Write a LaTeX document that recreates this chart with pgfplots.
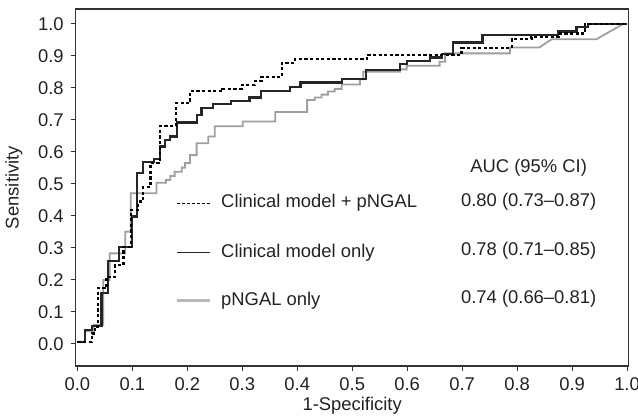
\documentclass[border=0pt]{standalone}
\usepackage{pgfplots}
\pgfplotsset{compat=1.18}
\usepackage{fontspec}
\setmainfont{Liberation Sans}
\definecolor{frame}{HTML}{333333}
\definecolor{txt}{HTML}{222222}
\definecolor{roc}{HTML}{9F9F9F}
\definecolor{rocleg}{HTML}{B8B8B8}
\begin{document}
\begin{tikzpicture}[font=\fontsize{9.2}{11}\selectfont, text=txt]
\useasboundingbox (0,0) rectangle (319pt,208pt);
\begin{axis}[
    at={(37.85pt,25pt)}, anchor=south west,
    scale only axis, width=276.5pt, height=178.4pt,
    xmin=-0.003, xmax=1.003, ymin=-0.0688, ymax=1.046,
    xtick={0,0.1,0.2,0.3,0.4,0.5,0.6,0.7,0.8,0.9,1.0},
    ytick={0,0.1,0.2,0.3,0.4,0.5,0.6,0.7,0.8,0.9,1.0},
    xtick pos=bottom, ytick pos=left, tick align=outside,
    major tick length=2.5pt,
    tick style={frame, line width=0.5pt},
    axis line style={frame, line width=0.7pt},
    /pgf/number format/assume math mode=true,
    /pgf/number format/.cd, fixed, fixed zerofill, precision=1, /pgfplots/.cd,
    xlabel={1-Specificity}, ylabel={Sensitivity},
    xlabel style={yshift=4pt}, ylabel style={yshift=1pt},
]
% pNGAL only
\addplot[roc, line width=0.9pt] coordinates {
  (0,0.007)(0.014,0.007)(0.014,0.04)(0.03,0.04)(0.03,0.06)(0.047,0.06)(0.047,0.128)
  (0.047,0.2)(0.059,0.2)(0.059,0.283)(0.087,0.283)(0.087,0.351)(0.097,0.351)
  (0.097,0.471)(0.144,0.471)(0.144,0.504)(0.161,0.504)(0.161,0.5125)(0.169,0.5125)
  (0.169,0.525)(0.177,0.525)(0.177,0.538)(0.190,0.538)(0.190,0.551)(0.196,0.551)
  (0.196,0.565)(0.205,0.565)(0.205,0.59)(0.217,0.59)(0.217,0.627)(0.238,0.627)
  (0.238,0.648)(0.250,0.648)(0.250,0.68)(0.301,0.68)(0.301,0.695)(0.36,0.695)
  (0.36,0.725)(0.418,0.725)(0.418,0.762)(0.432,0.762)(0.432,0.77)(0.444,0.77)
  (0.444,0.779)(0.456,0.779)(0.456,0.789)(0.468,0.789)(0.468,0.797)(0.481,0.797)
  (0.481,0.811)(0.514,0.811)(0.514,0.827)(0.52,0.827)(0.52,0.851)(0.587,0.851)
  (0.587,0.858)(0.599,0.858)(0.599,0.869)(0.659,0.869)(0.659,0.882)(0.669,0.882)
  (0.669,0.908)(0.787,0.908)(0.787,0.926)(0.84,0.926)(0.863,0.952)(0.944,0.952)
  (0.993,1.0)(1.0,1.0)};
% Clinical model only
\addplot[black!85, line width=1.1pt] coordinates {
  (0,0.007)(0.014,0.007)(0.014,0.044)(0.026,0.044)(0.026,0.056)(0.044,0.056)
  (0.044,0.159)(0.056,0.159)(0.056,0.259)(0.076,0.259)(0.076,0.304)(0.099,0.304)
  (0.099,0.398)(0.109,0.398)(0.109,0.533)(0.119,0.533)(0.119,0.568)(0.14,0.568)
  (0.14,0.577)(0.150,0.577)(0.150,0.617)(0.159,0.617)(0.159,0.6375)(0.169,0.6375)
  (0.169,0.648)(0.181,0.648)(0.181,0.692)(0.217,0.692)(0.217,0.716)(0.226,0.716)
  (0.226,0.737)(0.247,0.737)(0.247,0.75)(0.279,0.75)(0.279,0.76)(0.313,0.76)
  (0.313,0.77)(0.334,0.77)(0.334,0.79)(0.387,0.79)(0.387,0.804)(0.406,0.804)
  (0.406,0.817)(0.482,0.817)(0.482,0.828)(0.525,0.828)(0.525,0.856)(0.587,0.856)
  (0.587,0.874)(0.599,0.874)(0.599,0.884)(0.641,0.884)(0.641,0.895)(0.663,0.895)
  (0.663,0.905)(0.684,0.905)(0.684,0.942)(0.737,0.942)(0.737,0.966)(0.875,0.966)
  (0.875,0.976)(0.908,0.976)(0.908,0.99)(0.929,0.99)(0.929,1.0)(1.0,1.0)};
% Clinical model + pNGAL
\addplot[black, line width=1.1pt, dash pattern=on 1.6pt off 1.2pt] coordinates {
  (0,0.007)(0.026,0.007)(0.026,0.033)(0.032,0.033)(0.032,0.054)(0.037,0.054)
  (0.037,0.174)(0.053,0.174)(0.053,0.21)(0.069,0.21)(0.069,0.247)(0.084,0.247)
  (0.084,0.304)(0.097,0.304)(0.097,0.419)(0.111,0.419)(0.111,0.445)(0.12,0.445)
  (0.12,0.49)(0.133,0.49)(0.133,0.565)(0.150,0.565)(0.150,0.68)(0.179,0.68)
  (0.179,0.752)(0.205,0.752)(0.205,0.79)(0.264,0.79)(0.264,0.797)(0.299,0.797)
  (0.299,0.809)(0.323,0.809)(0.323,0.822)(0.335,0.822)(0.335,0.835)(0.372,0.835)
  (0.372,0.879)(0.396,0.879)(0.396,0.89)(0.527,0.89)(0.527,0.903)(0.699,0.903)
  (0.699,0.924)(0.790,0.924)(0.790,0.952)(0.826,0.952)(0.826,0.96)(0.878,0.96)
  (0.878,0.97)(0.923,0.97)(0.923,1.0)(1.0,1.0)};
% legend and AUC table
\draw[black, line width=0.5pt, dash pattern=on 1.5pt off 1pt] (axis cs:0.181,0.44) -- (axis cs:0.241,0.44);
\draw[black!85, line width=0.7pt] (axis cs:0.181,0.285) -- (axis cs:0.241,0.285);
\draw[rocleg, line width=1.4pt] (axis cs:0.181,0.135) -- (axis cs:0.241,0.135);
\node[anchor=west, inner sep=0pt] at (axis cs:0.261,0.44) {Clinical model + pNGAL};
\node[anchor=west, inner sep=0pt] at (axis cs:0.261,0.285) {Clinical model only};
\node[anchor=west, inner sep=0pt] at (axis cs:0.261,0.135) {pNGAL only};
\node[inner sep=0pt] at (axis cs:0.821,0.552) {AUC (95\% CI)};
\node[inner sep=0pt] at (axis cs:0.821,0.445) {0.80 (0.73–0.87)};
\node[inner sep=0pt] at (axis cs:0.821,0.29) {0.78 (0.71–0.85)};
\node[inner sep=0pt] at (axis cs:0.821,0.14) {0.74 (0.66–0.81)};
\end{axis}
\end{tikzpicture}
\end{document}
